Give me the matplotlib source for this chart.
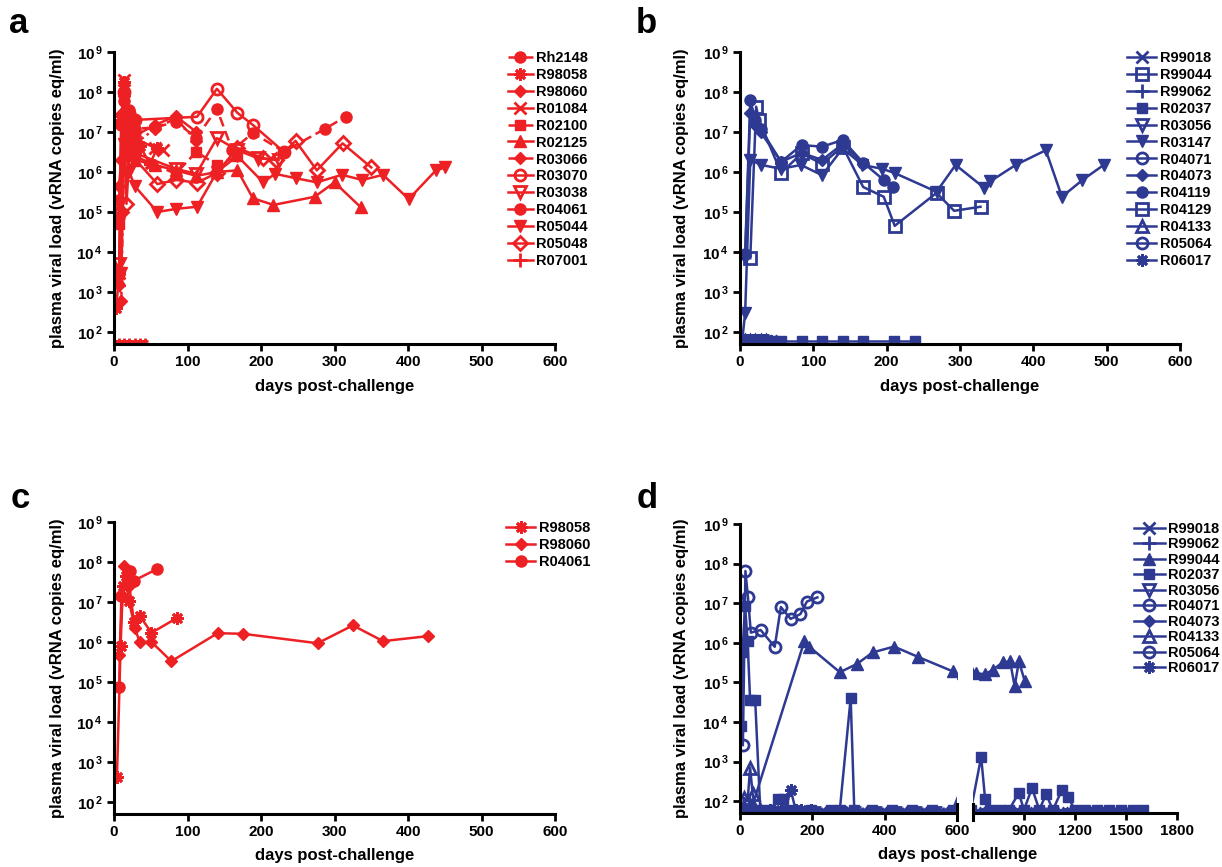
import math
import matplotlib
matplotlib.use("Agg")
import matplotlib.pyplot as plt
from matplotlib.lines import Line2D
from matplotlib.ticker import FixedLocator, FuncFormatter, NullLocator

plt.rcParams['font.family'] = ['Liberation Sans', 'DejaVu Sans']
plt.rcParams['font.weight'] = 'bold'
plt.rcParams['mathtext.fontset'] = 'custom'
plt.rcParams['mathtext.rm'] = 'Liberation Sans:bold'
plt.rcParams['mathtext.bf'] = 'Liberation Sans:bold'
plt.rcParams['mathtext.it'] = 'Liberation Sans:bold'

RED = '#ED2024'
BLUE = '#2E3A92'

# ---------------- panel a ----------------
A_NAMES = ['Rh2148', 'R98058', 'R98060', 'R01084', 'R02100', 'R02125', 'R03066',
           'R03070', 'R03038', 'R04061', 'R05044', 'R05048', 'R07001']
A_RH2148_D = [7, 14, 21, 28, 56, 84, 112, 140, 161, 189, 231, 287, 315]
A_RH2148_V = [2e5, 9e7, 2.5e7, 1.2e7, 1.3e7, 1.8e7, 7.2e6, 3.8e7, 3.5e6, 9.5e6, 3.2e6, 1.2e7, 2.4e7]
A_R98058_D = [3, 7, 10, 14, 21, 28, 35, 49, 59]
A_R98058_V = [400, 3e3, 2e7, 1.8e8, 1.1e7, 3e6, 4.5e6, 1.6e6, 4e6]
A_R98060_D = [7, 10, 14, 21, 28, 56, 84, 112]
A_R98060_V = [4.5e5, 2e6, 8e7, 3e7, 8e6, 1.5e7, 2.5e7, 1e7]
A_R01084_D = [7, 10, 14, 21, 28, 56, 66]
A_R01084_V = [3e3, 2e7, 2e8, 1.5e7, 7e6, 4e6, 3.5e6]
A_R02100_D = [7, 14, 21, 28, 84, 112, 140, 168]
A_R02100_V = [5e4, 2e7, 2.6e6, 2.5e6, 9e5, 3.2e6, 1.5e6, 2.5e6]
A_R02125_D = [7, 14, 21, 28, 56, 84, 112, 140, 168, 189, 217, 273, 300, 336]
A_R02125_V = [2e3, 4e7, 5e6, 2e6, 1.5e6, 1.1e6, 8e5, 1e6, 1.1e6, 2.2e5, 1.5e5, 2.4e5, 5.5e5, 1.3e5]
A_R03066_D = [7, 10, 14, 21, 28, 56, 84, 112]
A_R03066_V = [1.5e3, 600, 2e7, 7e6, 5e6, 1.2e7, 2.2e7, 6e6]
A_R03070_D = [7, 14, 21, 28, 113, 140, 168, 189, 231]
A_R03070_V = [1e5, 1e8, 3e7, 2e7, 2.4e7, 1.2e8, 3e7, 1.5e7, 3.2e6]
A_R03038_D = [7, 14, 21, 28, 84, 112, 140, 168, 196, 224]
A_R03038_V = [5e3, 2e7, 8e6, 3e6, 1.2e6, 9e5, 7e6, 3.5e6, 2.2e6, 2e6]
A_R04061_D = [7, 10, 14, 21, 28]
A_R04061_V = [7.5e4, 1.5e7, 6e7, 3.5e7, 2e7]
A_R05044_D = [7, 10, 14, 21, 28, 59, 85, 113, 140, 168, 203, 219, 247, 276, 310, 338, 366, 401, 438, 451]
A_R05044_V = [2e3, 3e3, 5e6, 1e6, 4.5e5, 1e5, 1.2e5, 1.35e5, 1e6, 2.5e6, 5.5e5, 9e5, 7e5, 5.5e5,
              8.5e5, 6.3e5, 8.5e5, 2.1e5, 1.1e6, 1.3e6]
A_R05048_D = [10, 14, 17, 21, 59, 85, 113, 140, 168, 203, 221, 247, 276, 311, 350]
A_R05048_V = [1e5, 3e7, 1.6e5, 3e6, 5e5, 6.3e5, 5.4e5, 9.5e5, 4e6, 2.2e6, 2e6, 6e6, 1.1e6, 5.2e6, 1.3e6]
A_R07001_D = [0, 7, 14, 21, 28, 35, 42]
A_R07001_V = [60, 60, 60, 60, 60, 60, 60]

# ---------------- panel b ----------------
B_NAMES = ['R99018', 'R99044', 'R99062', 'R02037', 'R03056', 'R03147', 'R04071',
           'R04073', 'R04119', 'R04129', 'R04133', 'R05064', 'R06017']
B_R99018_D = [0, 7, 14, 21, 28, 35, 42]
B_R99018_V = [60, 60, 60, 60, 60, 60, 60]
B_R99044_D = [0, 7, 14, 21, 28]
B_R99044_V = [60, 60, 60, 60, 60]
B_R99062_D = [0, 7, 14, 21, 28, 35]
B_R99062_V = [60, 60, 60, 60, 60, 60]
B_R02037_D = [0, 7, 14, 21, 28, 35, 42, 56, 84, 112, 140, 168, 210, 238]
B_R02037_V = [60, 60, 60, 60, 60, 60, 60, 60, 60, 60, 60, 60, 60, 60]
B_R03056_D = [0, 7, 14, 21, 28]
B_R03056_V = [60, 60, 60, 60, 60]
B_R03147_D = [3, 7, 14, 29, 56, 83, 112, 140, 167, 194, 211, 268, 294, 333, 341, 376, 417, 439, 467, 496]
B_R03147_V = [60, 300, 2e6, 1.5e6, 1.2e6, 1.5e6, 8.3e5, 3.9e6, 1.5e6, 1.2e6, 9.4e5, 3.2e5, 1.5e6,
              4e5, 5.8e5, 1.5e6, 3.5e6, 2.4e5, 6.3e5, 1.5e6]
B_R04071_D = [0, 7, 14, 21, 28, 35]
B_R04071_V = [60, 60, 60, 60, 60, 60]
B_R04073_D = [7, 14, 21, 28, 56, 84, 112, 140, 168]
B_R04073_V = [8e3, 3e7, 1.5e7, 1e7, 1.8e6, 3e6, 2e6, 5e6, 1.6e6]
B_R04119_D = [7, 14, 21, 28, 56, 84, 112, 140, 168, 196, 208]
B_R04119_V = [9e3, 6.2e7, 2e7, 1.2e7, 1.8e6, 4.7e6, 4.3e6, 6.3e6, 1.7e6, 6.3e5, 4.3e5]
B_R04129_D = [14, 22, 26, 56, 84, 112, 140, 168, 196, 211, 268, 292, 328]
B_R04129_V = [7e3, 4.3e7, 2e7, 9.5e5, 2.9e6, 1.6e6, 4.3e6, 4.2e5, 2.4e5, 4.5e4, 3e5, 1.07e5, 1.35e5]
B_R04133_D = [0, 7, 14, 21, 28, 35]
B_R04133_V = [60, 60, 60, 60, 60, 60]
B_R05064_D = [0, 7, 14, 21]
B_R05064_V = [60, 60, 60, 60]
B_R06017_D = [0, 7, 14, 21, 28, 35, 42]
B_R06017_V = [60, 60, 60, 60, 60, 60, 60]

# ---------------- panel c ----------------
C_NAMES = ['R98058', 'R98060', 'R04061']
C_R98058_D = [4, 9, 12, 17, 20, 27, 35, 51, 86]
C_R98058_V = [420, 8e5, 2.5e7, 4.5e7, 1.07e7, 3.1e6, 4.5e6, 1.7e6, 4e6]
C_R98060_D = [7, 14, 21, 28, 35, 51, 78, 141, 176, 277, 325, 366, 427]
C_R98060_V = [4.6e5, 8e7, 2.5e7, 2.3e6, 1e6, 1e6, 3.3e5, 1.66e6, 1.6e6, 9.3e5, 2.6e6, 1.05e6, 1.4e6]
C_R04061_D = [7, 10, 22, 27, 58]
C_R04061_V = [7.4e4, 1.4e7, 6e7, 3.4e7, 6.6e7]

# ---------------- panel d ----------------
D_NAMES = ['R99018', 'R99062', 'R99044', 'R02037', 'R03056', 'R04071', 'R04073',
           'R04133', 'R05064', 'R06017']
D_R99018_D = [0, 28, 56, 84, 140, 196, 252, 308, 364, 420, 476, 532, 586, 650, 720, 790, 860,
              930, 1000, 1070, 1140, 1210, 1280, 1350, 1420, 1490, 1560, 1600]
D_R99018_V = [60, 60, 60, 60, 60, 60, 60, 60, 60, 60, 60, 60, 60, 60, 60, 60, 60, 60, 60, 60,
              60, 60, 60, 60, 60, 60, 60, 60]
D_R99062_D = [7, 42, 70, 112, 168, 224, 280, 336, 392, 448, 504, 560, 680, 750, 820, 890, 960,
              1030, 1100, 1170, 1240, 1310, 1380, 1450, 1520, 1590]
D_R99062_V = [60, 60, 60, 60, 60, 60, 60, 60, 60, 60, 60, 60, 60, 60, 60, 60, 60, 60, 60, 60,
              60, 60, 60, 60, 60, 60]
D_R99044_D = [14, 35, 178, 191, 276, 323, 367, 426, 492, 588, 617, 671, 718, 775, 818, 845, 870, 905]
D_R99044_V = [60, 80, 1.1e6, 8e5, 1.8e5, 2.9e5, 5.7e5, 8e5, 4.4e5, 1.9e5, 1.7e5, 1.6e5, 2.1e5,
              3.2e5, 3.4e5, 8e4, 3.4e5, 1.05e5]
D_R02037_D = [3, 7, 14, 21, 28, 42, 56, 84, 105, 118, 140, 196, 252, 276, 306, 316, 364, 420, 476,
              532, 588, 648, 671, 700, 756, 812, 869, 900, 947, 990, 1030, 1070, 1124, 1159, 1200,
              1260, 1330, 1400, 1470, 1540, 1600]
D_R02037_V = [8e3, 6e5, 8.5e6, 1.1e6, 3.5e4, 3.5e4, 60, 60, 110, 110, 60, 60, 60, 60, 4e4, 60, 60,
              60, 60, 60, 60, 1.3e3, 115, 60, 60, 60, 160, 60, 215, 60, 150, 60, 195, 125, 60, 60,
              60, 60, 60, 60, 60]
D_R03056_D = [0, 21, 49, 98, 154, 210, 266, 322, 378, 434, 490, 546]
D_R03056_V = [60, 60, 60, 60, 60, 60, 60, 60, 60, 60, 60, 60]
D_R04071_D = [8, 15, 22, 30, 57, 96, 113, 140, 167, 185, 214]
D_R04071_V = [2.6e3, 6.5e7, 1.4e7, 1.8e6, 2.1e6, 7.9e5, 8e6, 4e6, 5.3e6, 1.1e7, 1.4e7]
D_R04073_D = [0, 14, 35, 63, 126, 182, 238, 294, 350, 406, 462, 518, 574]
D_R04073_V = [60, 60, 60, 60, 60, 60, 60, 60, 60, 60, 60, 60, 60]
D_R04133_D = [0, 7, 11, 21, 28, 35, 42, 56]
D_R04133_V = [60, 60, 120, 100, 700, 150, 60, 60]
D_R05064_D = [0, 7, 28, 91, 147, 203, 259, 315, 371, 427, 483, 539, 595]
D_R05064_V = [60, 60, 60, 60, 60, 60, 60, 60, 60, 60, 60, 60, 60]
D_R06017_D = [0, 14, 28, 56, 84, 112, 126, 140, 154, 168, 196]
D_R06017_V = [60, 60, 60, 60, 60, 60, 60, 195, 60, 60, 60]

YTICKS = [1e2, 1e3, 1e4, 1e5, 1e6, 1e7, 1e8, 1e9]
XTICKS = [0, 100, 200, 300, 400, 500, 600]
D_XTICKS_LEFT = [0, 200, 400, 600]
D_XTICKS_RIGHT = [900, 1200, 1500, 1800]
YLABEL = 'plasma viral load (vRNA copies eq/ml)'
XLABEL = 'days post-challenge'

STY = {
    'o_f': ('o', True, 8), 'o_o': ('o', False, 8), 's_f': ('s', True, 7), 's_o': ('s', False, 8),
    'D_f': ('D', True, 6.5), 'D_o': ('D', False, 7), '^_f': ('^', True, 8.5), '^_o': ('^', False, 8.5),
    'v_f': ('v', True, 8.5), 'v_o': ('v', False, 8.5), 'x': ('x', True, 8), '+': ('+', True, 10),
    'ast': ((8, 2, 0), True, 9),
}

W, H = 1222, 867
fig = plt.figure(figsize=(W / 100, H / 100), dpi=100)


def px_axes(l, t, r, b):
    return fig.add_axes([l / W, 1 - b / H, (r - l) / W, (b - t) / H])


def style_axes(ax, left=True):
    ax.set_yscale('log')
    ax.set_ylim(50, 1e9)
    for s in ['top', 'right']:
        ax.spines[s].set_visible(False)
    for s in ['left', 'bottom']:
        ax.spines[s].set_linewidth(2.2)
    ax.tick_params(axis='both', direction='out', length=5, width=2, labelsize=11, pad=3)
    ax.yaxis.set_minor_locator(NullLocator())
    ax.xaxis.set_minor_locator(NullLocator())
    if left:
        ax.yaxis.set_major_locator(FixedLocator(YTICKS))
        ax.yaxis.set_major_formatter(FuncFormatter(
            lambda v, p: r'$\mathbf{10^{\,%d}}$' % round(math.log10(v))))
    else:
        ax.spines['left'].set_visible(False)
        ax.tick_params(axis='y', left=False, labelleft=False)


def mew_for(key, filled, mk):
    return 2 if (not filled or mk in ('x', '+') or key == 'ast') else 1


def plot_series(ax, d, v, key, color, ls='-', small=False):
    mk, filled, ms = STY[key]
    if small:
        ms = 4.5
    ax.plot(d, v, ls=ls, color=color, lw=1.8, marker=mk, ms=ms,
            mfc=color if filled else 'none', mec=color, mew=mew_for(key, filled, mk),
            clip_on=True, dash_capstyle='butt')


def handle(key, color, ls='-'):
    mk, filled, ms = STY[key]
    return Line2D([], [], ls=ls, color=color, lw=1.8, marker=mk, ms=ms,
                  mfc=color if filled else 'none', mec=color, mew=mew_for(key, filled, mk))


def legend(ax, names, keys, lss, color, x_px, y_px, hl, fs=10.5, sp=0.2):
    hs = [handle(k, color, l) for k, l in zip(keys, lss)]
    ax.legend(hs, names, loc='upper left', bbox_to_anchor=(x_px / W, 1 - y_px / H),
              bbox_transform=fig.transFigure, frameon=False,
              handlelength=hl, handletextpad=0.25, labelspacing=sp, borderpad=0,
              borderaxespad=0, prop={'weight': 'bold', 'size': fs})


# ---- a ----
axa = px_axes(114, 52, 555, 344)
style_axes(axa)
A_D = [A_RH2148_D, A_R98058_D, A_R98060_D, A_R01084_D, A_R02100_D, A_R02125_D, A_R03066_D,
       A_R03070_D, A_R03038_D, A_R04061_D, A_R05044_D, A_R05048_D, A_R07001_D]
A_V = [A_RH2148_V, A_R98058_V, A_R98060_V, A_R01084_V, A_R02100_V, A_R02125_V, A_R03066_V,
       A_R03070_V, A_R03038_V, A_R04061_V, A_R05044_V, A_R05048_V, A_R07001_V]
A_K = ['o_f', 'ast', 'D_f', 'x', 's_f', '^_f', 'D_f', 'o_o', 'v_o', 'o_f', 'v_f', 'D_o', '+']
A_L = [(0, (4, 2)), '-', '-', '-', (0, (4, 2)), '-', (0, (3, 1.5, 1, 1.5)), '-', '-', '-', '-', '-', '-']
A_SMALL = [False] * 12 + [True]
for d, v, k, l, sm in zip(A_D, A_V, A_K, A_L, A_SMALL):
    plot_series(axa, d, v, k, RED, l, small=sm)
axa.set_xlim(0, 600)
axa.set_xticks(XTICKS)
axa.set_ylabel(YLABEL, fontsize=12, fontweight='bold')
axa.yaxis.set_label_coords(-49 / 441, 0.5)
axa.set_xlabel(XLABEL, fontsize=12, fontweight='bold')
axa.xaxis.set_label_coords(0.5, -35 / 292)
legend(axa, A_NAMES, A_K, A_L, RED, 508, 51, 1.7)

# ---- b ----
axb = px_axes(740, 52, 1180, 344)
style_axes(axb)
B_D = [B_R99018_D, B_R99044_D, B_R99062_D, B_R02037_D, B_R03056_D, B_R03147_D, B_R04071_D,
       B_R04073_D, B_R04119_D, B_R04129_D, B_R04133_D, B_R05064_D, B_R06017_D]
B_V = [B_R99018_V, B_R99044_V, B_R99062_V, B_R02037_V, B_R03056_V, B_R03147_V, B_R04071_V,
       B_R04073_V, B_R04119_V, B_R04129_V, B_R04133_V, B_R05064_V, B_R06017_V]
B_K = ['x', 's_o', '+', 's_f', 'v_o', 'v_f', 'o_o', 'D_f', 'o_f', 's_o', '^_o', 'o_o', 'ast']
for d, v, k in zip(B_D, B_V, B_K):
    plot_series(axb, d, v, k, BLUE, '-')
axb.set_xlim(0, 600)
axb.set_xticks(XTICKS)
axb.set_ylabel(YLABEL, fontsize=12, fontweight='bold')
axb.yaxis.set_label_coords(-51 / 440, 0.5)
axb.set_xlabel(XLABEL, fontsize=12, fontweight='bold')
axb.xaxis.set_label_coords(0.5, -35 / 292)
legend(axb, B_NAMES, B_K, ['-'] * 13, BLUE, 1127, 51, 2.0)

# ---- c ----
axc = px_axes(114, 522, 555, 814)
style_axes(axc)
C_D = [C_R98058_D, C_R98060_D, C_R04061_D]
C_V = [C_R98058_V, C_R98060_V, C_R04061_V]
C_K = ['ast', 'D_f', 'o_f']
for d, v, k in zip(C_D, C_V, C_K):
    plot_series(axc, d, v, k, RED, '-')
axc.set_xlim(0, 600)
axc.set_xticks(XTICKS)
axc.set_ylabel(YLABEL, fontsize=12, fontweight='bold')
axc.yaxis.set_label_coords(-49 / 441, 0.5)
axc.set_xlabel(XLABEL, fontsize=12, fontweight='bold')
axc.xaxis.set_label_coords(0.5, -34 / 292)
legend(axc, C_NAMES, C_K, ['-'] * 3, RED, 506, 521, 2.0)

# ---- d ----
axdl = px_axes(740, 524, 957, 813)
axdr = px_axes(973, 524, 1177, 813)
style_axes(axdl)
style_axes(axdr, left=False)
D_D = [D_R99018_D, D_R99062_D, D_R99044_D, D_R02037_D, D_R03056_D, D_R04071_D, D_R04073_D,
       D_R04133_D, D_R05064_D, D_R06017_D]
D_V = [D_R99018_V, D_R99062_V, D_R99044_V, D_R02037_V, D_R03056_V, D_R04071_V, D_R04073_V,
       D_R04133_V, D_R05064_V, D_R06017_V]
D_K = ['x', '+', '^_f', 's_f', 'v_o', 'o_o', 'D_f', '^_o', 'o_o', 'ast']
D_SMALL = [True, True, False, False, True, False, True, False, True, False]
for ax in (axdl, axdr):
    for d, v, k, sm in zip(D_D, D_V, D_K, D_SMALL):
        plot_series(ax, d, v, k, BLUE, '-', small=sm)
axdl.set_xlim(0, 600)
axdl.set_xticks(D_XTICKS_LEFT)
axdr.set_xlim(600, 1800)
axdr.set_xticks(D_XTICKS_RIGHT)
for ax, xx in ((axdl, 1.0), (axdr, 0.0)):
    ax.plot([xx, xx], [-0.025, 0.03], transform=ax.transAxes, color='black', lw=2.2, clip_on=False)
axdl.set_ylabel(YLABEL, fontsize=12, fontweight='bold')
axdl.yaxis.set_label_coords(-51 / 217, 0.5)
fig.text(957.5 / W, 1 - 855 / H, XLABEL, fontsize=12, fontweight='bold', ha='center', va='center')
legend(axdr, D_NAMES, D_K, ['-'] * 10, BLUE, 1134, 522, 2.1, sp=0.1)

# panel letters
for lab, x, y in (('a', 9, 33), ('b', 636, 33), ('c', 11, 508), ('d', 637, 508)):
    fig.text(x / W, 1 - y / H, lab, fontsize=25, fontweight='bold', ha='left', va='baseline')

fig.savefig('out.png', dpi=100)
